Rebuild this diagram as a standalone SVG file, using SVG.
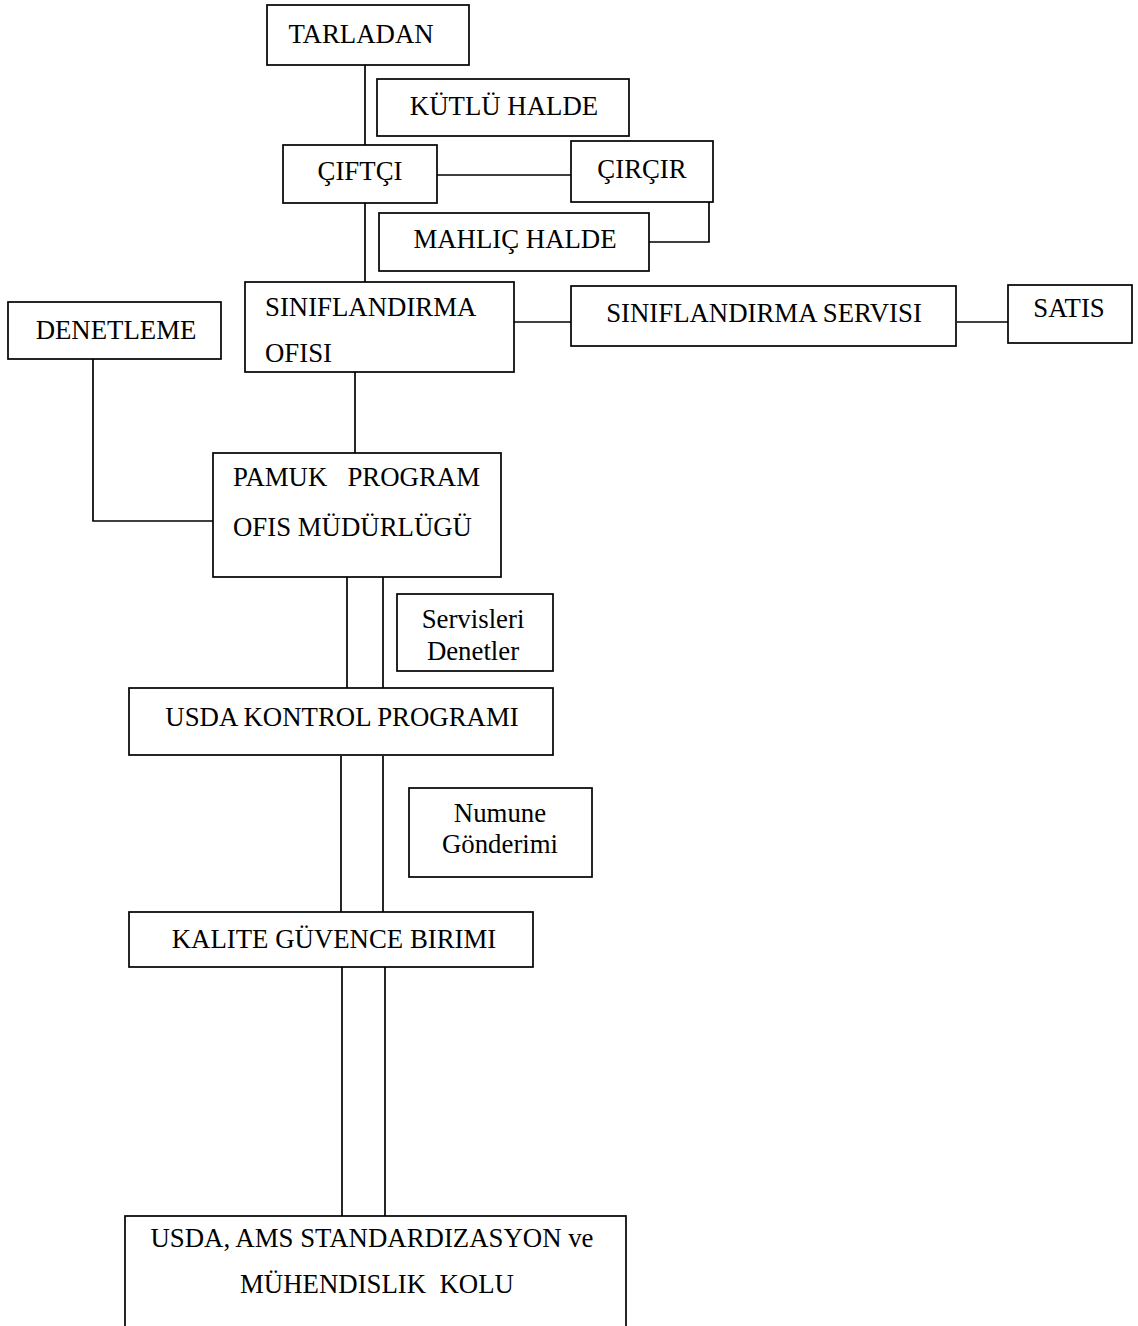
<svg xmlns="http://www.w3.org/2000/svg" width="1138" height="1326" viewBox="0 0 1138 1326">
<style>
.box{fill:#fff;stroke:#000;stroke-width:1.7}
.t{font-family:"Liberation Serif","Times New Roman",serif;font-size:26.8px;fill:#000}
.m{text-anchor:middle}
.ln{stroke:#000;stroke-width:1.7;fill:none}
</style>
<rect width="1138" height="1326" fill="#fff"/>
<g id="connectors">
<line class="ln" x1="365" y1="62" x2="365" y2="146"/>
<line class="ln" x1="437" y1="175" x2="571" y2="175"/>
<polyline class="ln" points="709,202 709,242 649,242"/>
<line class="ln" x1="365" y1="203" x2="365" y2="284"/>
<line class="ln" x1="514" y1="322" x2="574" y2="322"/>
<line class="ln" x1="957" y1="322" x2="1010" y2="322"/>
<line class="ln" x1="355" y1="372" x2="355" y2="453"/>
<polyline class="ln" points="93,359 93,521 213,521"/>
<line class="ln" x1="347" y1="575" x2="347" y2="690"/>
<line class="ln" x1="383" y1="572" x2="383" y2="690"/>
<line class="ln" x1="341" y1="756" x2="341" y2="912"/>
<line class="ln" x1="383" y1="756" x2="383" y2="912"/>
<line class="ln" x1="342" y1="967" x2="342" y2="1217"/>
<line class="ln" x1="385" y1="967" x2="385" y2="1217"/>
</g>
<g id="tarladan"><rect class="box" x="267" y="5" width="202" height="60"/><text class="t m" x="361" y="43">TARLADAN</text></g>
<g id="kutlu"><rect class="box" x="377" y="79" width="252" height="57"/><text class="t m" x="504" y="115">KÜTLÜ HALDE</text></g>
<g id="ciftci"><rect class="box" x="283" y="145" width="154" height="58"/><text class="t m" x="360" y="180">ÇIFTÇI</text></g>
<g id="circir"><rect class="box" x="571" y="141" width="142" height="61"/><text class="t m" x="642" y="178">ÇIRÇIR</text></g>
<g id="mahlic"><rect class="box" x="379" y="213" width="270" height="58"/><text class="t m" x="515" y="248">MAHLIÇ HALDE</text></g>
<g id="siniflandirma-ofisi"><rect class="box" x="245" y="282" width="269" height="90"/><text class="t" x="265" y="316">SINIFLANDIRMA</text><text class="t" x="265" y="362">OFISI</text></g>
<g id="siniflandirma-servisi"><rect class="box" x="571" y="286" width="385" height="60"/><text class="t m" x="764" y="322">SINIFLANDIRMA SERVISI</text></g>
<g id="satis"><rect class="box" x="1008" y="285" width="124" height="58"/><text class="t m" x="1069" y="317">SATIS</text></g>
<g id="denetleme"><rect class="box" x="8" y="302" width="213" height="57"/><text class="t m" x="116" y="339">DENETLEME</text></g>
<g id="pamuk"><rect class="box" x="213" y="453" width="288" height="124"/><text class="t" x="233" y="486" xml:space="preserve">PAMUK   PROGRAM</text><text class="t" x="233" y="536">OFIS MÜDÜRLÜGÜ</text></g>
<g id="servisleri"><rect class="box" x="397" y="594" width="156" height="77"/><text class="t m" x="473" y="628">Servisleri</text><text class="t m" x="473" y="660">Denetler</text></g>
<g id="usda-kontrol"><rect class="box" x="129" y="688" width="424" height="67"/><text class="t m" x="342" y="726">USDA KONTROL PROGRAMI</text></g>
<g id="numune"><rect class="box" x="409" y="788" width="183" height="89"/><text class="t m" x="500" y="822">Numune</text><text class="t m" x="500" y="853">Gönderimi</text></g>
<g id="kalite"><rect class="box" x="129" y="912" width="404" height="55"/><text class="t m" x="334" y="948">KALITE GÜVENCE BIRIMI</text></g>
<g id="usda-ams"><rect class="box" x="125" y="1216" width="501" height="130"/><text class="t m" x="372" y="1247">USDA, AMS STANDARDIZASYON ve</text><text class="t m" x="377" y="1293" xml:space="preserve">MÜHENDISLIK  KOLU</text></g>
</svg>
